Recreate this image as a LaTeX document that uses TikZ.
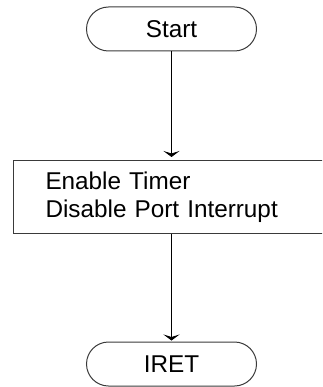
\documentclass[tikz,border=0pt]{standalone}
\usepackage{fontspec}
\setmainfont{Liberation Sans}
\usetikzlibrary{shapes.misc,arrows.meta}
\definecolor{edgegray}{HTML}{3A3A3A}
\tikzstyle{term}=[rounded rectangle, draw=edgegray, line width=1pt, minimum width=170pt, minimum height=44pt, inner sep=0, font=\fontsize{24.3}{28}\selectfont]
\tikzstyle{proc}=[rectangle, draw=edgegray, line width=1pt, minimum height=72pt, inner xsep=32pt, inner ysep=0, text width=263pt, align=left, font=\fontsize{24.3}{28}\selectfont]
\tikzstyle{flow}=[line width=1pt, -{Stealth[length=6pt,width=16pt,inset=2.5pt]}]

\begin{document}
\begin{tikzpicture}[x=1pt,y=1pt]
\clip[use as bounding box] (0,0) rectangle (322,-387);
\node at (171.5,-29) [term](start){Start};
\node at (13,-197) [proc, anchor=west](init){Enable Timer\\Disable Port Interrupt};
\node at (171.5,-364) [term](iret){IRET};
\draw[flow, shorten >=3.5pt] (start.south)--(start.south|-init.north);
\draw[flow, shorten >=1pt] (init.south-|iret.north)--(iret.north);
\end{tikzpicture}
\end{document}
